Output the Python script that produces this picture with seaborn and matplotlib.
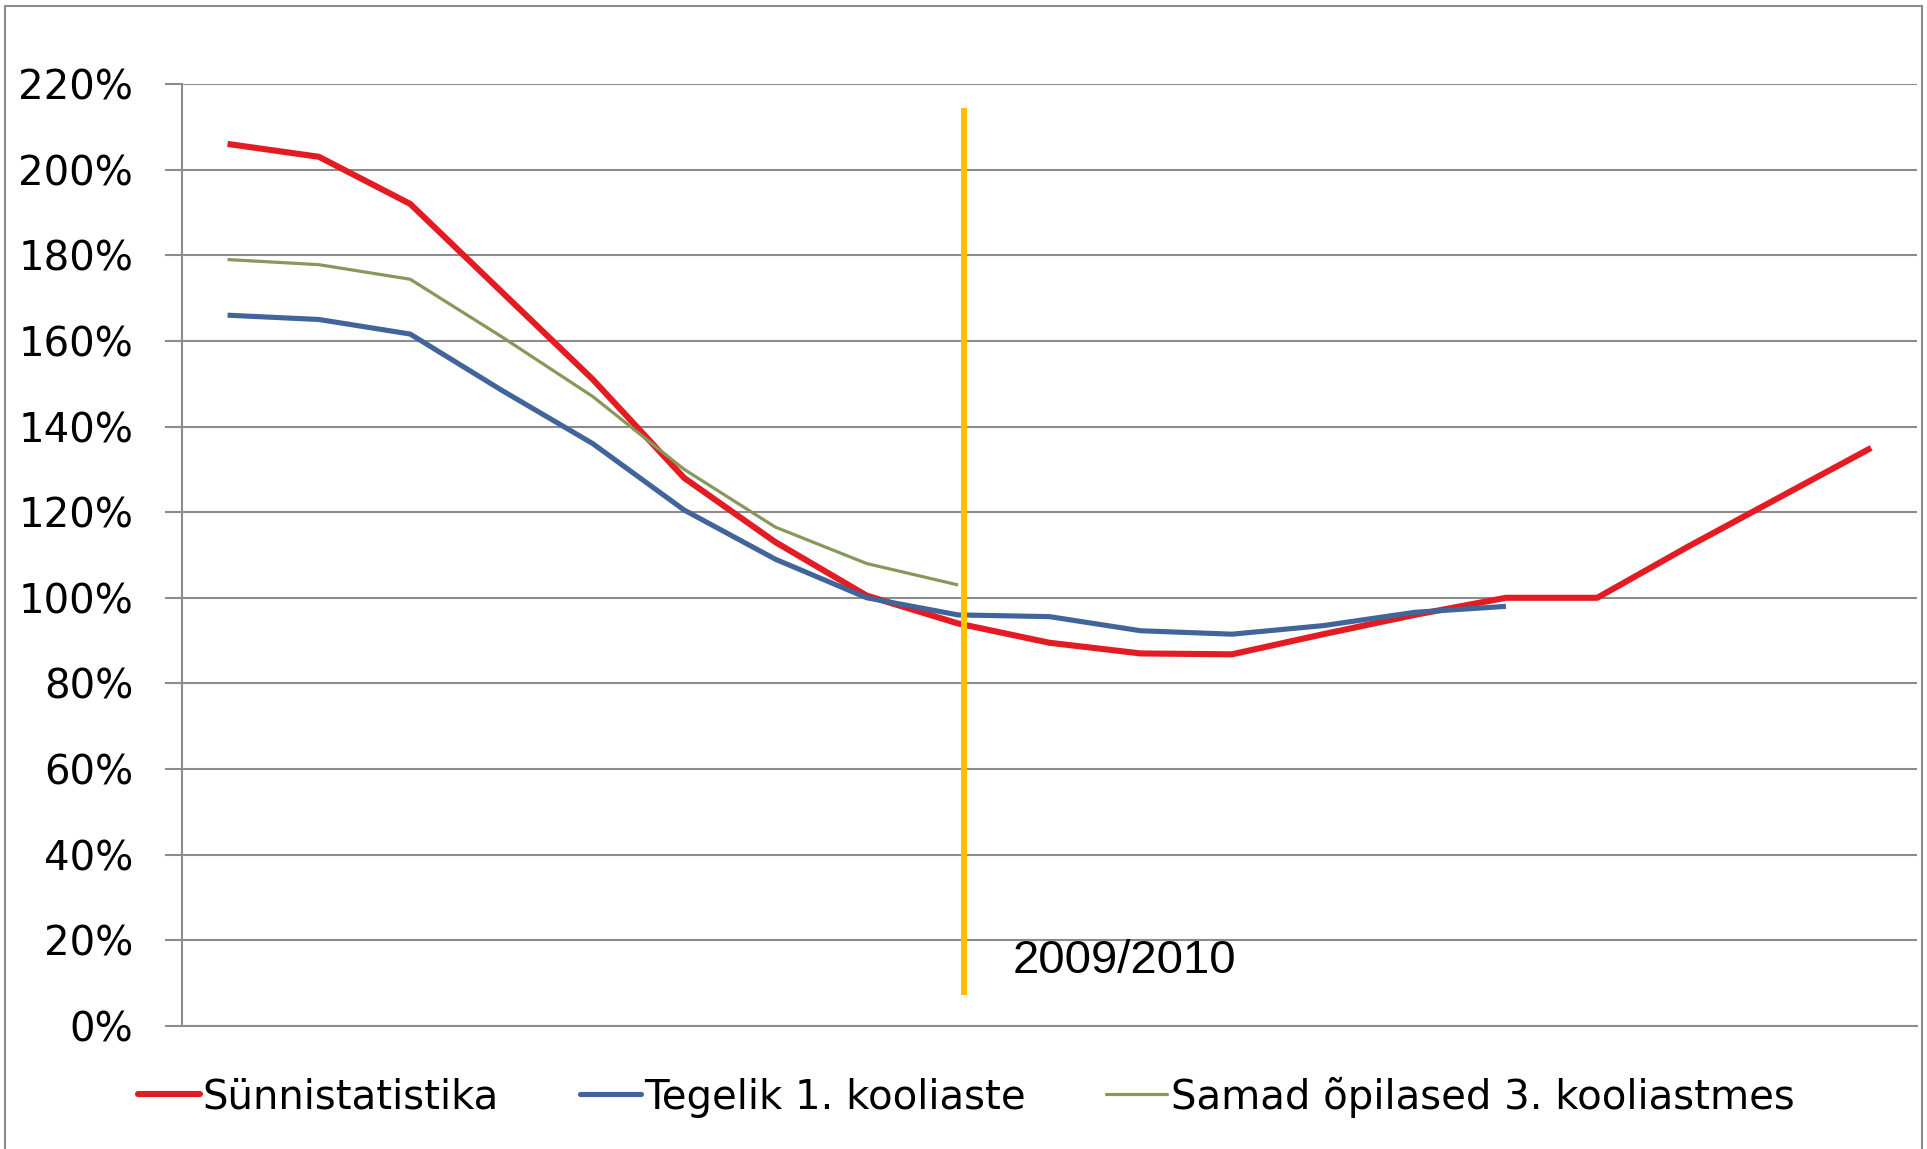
import pandas as pd
import seaborn as sns
import matplotlib.pyplot as plt
from matplotlib.lines import Line2D
from matplotlib.patches import Rectangle

# andmed (loetud pildilt, protsentides)
synd = [206, 203, 192, 171.5, 151, 128, 113, 100.5, 94, 89.5, 87, 86.8,
        91.5, 96, 100, 100, 112, 123.5, 135]
tegelik = [166, 165, 161.6, 148.5, 136, 120.5, 109, 100, 96, 95.6, 92.3,
           91.5, 93.5, 96.6, 98]
samad = [179, 177.8, 174.4, 161, 147, 130, 116.5, 108, 103]
y_ticks = list(range(0, 221, 20))
names = ['Sünnistatistika', 'Tegelik 1. kooliaste', 'Samad õpilased 3. kooliastmes']
colors = ['#E31B23', '#41659A', '#86985A']
widths = [4.4, 3.7, 2.3]
marker_year = '2009/2010'

sns.set_style('white')
plt.rcParams['font.family'] = ['DejaVu Sans']

fig = plt.figure(figsize=(19.27, 11.49), dpi=100)
ax = fig.add_axes([0.0944, 0.1071, 0.9003, 0.8198])

for vals, name, col, lw in zip([synd, tegelik, samad], names, colors, widths):
    df = pd.DataFrame({'x': range(len(vals)), 'y': vals})
    sns.lineplot(data=df, x='x', y='y', color=col, linewidth=lw, ax=ax,
                 solid_capstyle='butt', solid_joinstyle='round')

# 2009/2010 joon
ax.vlines(8.06, 7.2, 214.3, color='#FFC000', linewidth=4.3, zorder=5)
ax.text(8.6, 12.4, marker_year, fontsize=34, family='Liberation Sans',
        va='baseline', ha='left', color='black')

ax.set_xlim(-0.5, len(synd) - 0.5)
ax.set_ylim(0, 220)
ax.set_yticks(y_ticks)
ax.set_yticklabels([f'{t}%' for t in y_ticks], fontsize=29, color='black')
ax.set_xticks([])
ax.set_xlabel('')
ax.set_ylabel('')
ax.grid(axis='y', color='#8C8C8C', linewidth=1.5)
ax.set_axisbelow(True)
for s in ['top', 'right']:
    ax.spines[s].set_visible(False)
for s in ['left', 'bottom']:
    ax.spines[s].set_color('#8C8C8C')
    ax.spines[s].set_linewidth(1.5)
ax.tick_params(axis='y', which='both', left=True, length=12, width=1.5,
               color='#8C8C8C', pad=23)

handles = [Line2D([], [], color=c, linewidth=lw) for c, lw in zip(colors, widths)]
leg = fig.legend(handles, names, loc='center', bbox_to_anchor=(0.5015, 0.0453),
                 ncol=3, frameon=False, fontsize=29, handlelength=1.52,
                 handletextpad=0.08, columnspacing=2.0)
for t in leg.get_texts():
    t.set_color('black')

# raam ümber
fig.patches.append(Rectangle((5 / 1927, -0.01), 1917 / 1927, 1 - 6 / 1149 + 0.01,
                             transform=fig.transFigure, fill=False,
                             edgecolor='#8C8C8C', linewidth=1.5))

fig.savefig('out.png', dpi=100)
